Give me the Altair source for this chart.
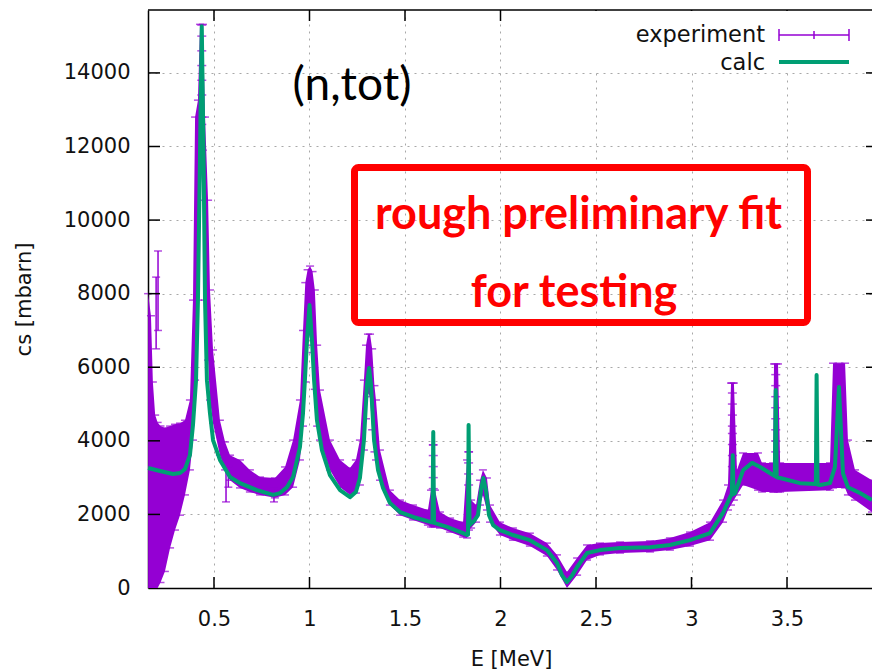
import altair as alt
import pandas as pd

# ---------------- data ----------------
calc_x = [0.155, 0.217, 0.285, 0.322, 0.348, 0.374, 0.390, 0.406, 0.416, 0.427, 0.436, 0.445, 0.453, 0.463,
          0.479, 0.495, 0.531, 0.584, 0.636, 0.725, 0.809, 0.846, 0.882, 0.914, 0.950, 0.966, 0.976, 0.987,
          1.000, 1.013, 1.024, 1.039, 1.065, 1.107, 1.160, 1.212, 1.243, 1.264, 1.285, 1.301, 1.312, 1.322,
          1.338, 1.359, 1.385, 1.421, 1.474, 1.542, 1.636, 1.644, 1.648, 1.652, 1.720, 1.804, 1.825, 1.830,
          1.833, 1.838, 1.861, 1.882, 1.898, 1.910, 1.924, 1.940, 1.961, 1.997, 2.065, 2.154, 2.243, 2.296,
          2.322, 2.348, 2.374, 2.401, 2.453, 2.521, 2.626, 2.783, 2.887, 2.992, 3.097, 3.165, 3.202, 3.211,
          3.216, 3.220, 3.228, 3.270, 3.317, 3.359, 3.427, 3.436, 3.441, 3.446, 3.464, 3.568, 3.651, 3.655,
          3.660, 3.673, 3.725, 3.751, 3.772, 3.793, 3.819, 3.882, 3.945]
calc_y = [3260, 3180, 3100, 3125, 3230, 3610, 4430, 5650, 7825, 11900, 15270, 11900, 7825, 5650,
          4750, 4020, 3480, 3015, 2850, 2660, 2530, 2580, 2740, 3015, 3830, 4750, 5650, 6740,
          7690, 6740, 5650, 4560, 3750, 3070, 2660, 2470, 2610, 2990, 4020, 5520, 5980, 5520,
          4020, 3200, 2720, 2310, 2065, 1930, 1790, 1790, 4240, 1770, 1660, 1490, 1440, 1450,
          4430, 1710, 1820, 1980, 2660, 2990, 2660, 1980, 1710, 1575, 1440, 1300, 1030, 680,
          350, 160, 330, 570, 950, 1030, 1090, 1110, 1170, 1300, 1490, 2040, 2470, 2550,
          3610, 2550, 2580, 3200, 3400, 3290, 3070, 3040, 5380, 3010, 2990, 2850, 2830, 5790,
          2810, 2800, 2850, 3290, 5460, 3120, 2740, 2580, 2390]

exp_x = [0.155, 0.170, 0.180, 0.192, 0.205, 0.220, 0.243, 0.270, 0.296, 0.322, 0.348, 0.374, 0.390, 0.401,
         0.416, 0.427, 0.442,
         0.453, 0.469, 0.479, 0.495, 0.531, 0.558, 0.584, 0.636, 0.688, 0.741, 0.819, 0.872, 0.914, 0.950,
         0.966, 0.978, 0.990, 1.003, 1.016, 1.028, 1.040, 1.055, 1.107, 1.160, 1.212, 1.243, 1.264, 1.285,
         1.296, 1.306, 1.317, 1.328, 1.340, 1.348,
         1.369, 1.421, 1.474, 1.542, 1.620, 1.636, 1.647, 1.657, 1.683, 1.736, 1.804, 1.825,
         1.835, 1.846, 1.872, 1.893, 1.908, 1.929, 1.945, 1.997, 2.065, 2.154, 2.243, 2.296, 2.348, 2.401,
         2.453, 2.521, 2.626, 2.783, 2.887, 2.992, 3.097, 3.165, 3.191, 3.207, 3.222, 3.238, 3.270, 3.348,
         3.369, 3.427, 3.432, 3.453, 3.464, 3.725, 3.741, 3.804, 3.819, 3.856, 3.945]
exp_lo = [0, 0, 0, 0, 0, 150, 450, 1090, 1575, 1980, 2530, 3210, 4020, 5650,
          7825, 10540, 11900,
          7825, 6195, 5110, 4480, 3610, 3210, 2930, 2720, 2610, 2530, 2450, 2530, 2740, 3480,
          4400, 5600, 6600, 6900, 6400, 5400, 4400, 4020, 3210, 2740, 2530, 2580, 2800, 3750,
          4600, 5300, 5200, 4300, 3700, 3480,
          2930, 2255, 1980, 1850, 1710, 1660, 1660, 1660, 1630, 1520, 1385, 1360,
          1575, 1630, 1790, 2255, 2530, 2120, 1790, 1440, 1300, 1140, 870, 490, 0, 350,
          760, 900, 950, 980, 1030, 1140, 1300, 1790, 2120, 2255, 2390, 2530, 2800, 2660,
          2610, 2610, 2610, 2610, 2610, 2660, 2720, 2720, 2530, 2390, 2065]
exp_hi = [8000, 7400, 5600, 4700, 4500, 4400, 4350, 4400, 4450, 4480, 4560, 5110, 7825, 12800,
          13260, 15320, 15320,
          12800, 10540, 8100, 6470, 4560, 3970, 3610, 3480, 3210, 3015, 2990, 3290, 4020, 5110,
          7000, 8300, 8650, 8750, 8600, 8100, 6600, 5380, 4020, 3480, 3260, 3480, 4020, 5650,
          6600, 6900, 6900, 6500, 5500, 5110,
          3750, 2660, 2390, 2255, 2120, 2660, 3890, 2660, 2065, 1900, 1790, 3480,
          3700, 2390, 2255, 2930, 3210, 2990, 2255, 1790, 1630, 1490, 1220, 900, 435, 815,
          1170, 1220, 1250, 1280, 1360, 1520, 1790, 2390, 2800, 5570, 5570, 3210, 3670, 3670,
          3400, 3400, 6090, 6090, 3400, 3400, 6110, 6110, 4020, 3210, 2930]

# a few isolated error bars that stick out of the dense band
bar_x = [0.197, 0.207, 0.563, 0.575, 0.814]
bar_lo = [6500, 7000, 2340, 2740, 2340]
bar_hi = [8450, 9160, 3300, 3300, 2700]

# stacked error-bar caps inside the narrow resonance columns
cap_x = [3.214] * 9 + [3.441] * 9 + [3.772] * 9 + [1.648] * 5 + [1.833] * 4 + [0.436] * 8
cap_y = [5570, 5300, 5000, 4700, 4400, 4200, 3900, 3600, 3300,
         6090, 5800, 5500, 5200, 4900, 4600, 4300, 4000, 3700,
         6110, 5900, 5600, 5300, 5000, 4700, 4400, 4000, 3700,
         3890, 3600, 3300, 3000, 2700,
         3700, 3400, 3100, 2800,
         15300, 15000, 14600, 14200, 13800, 13400, 12800, 12600]

x_ticks = [0.5, 1, 1.5, 2, 2.5, 3, 3.5]
y_ticks = [0, 2000, 4000, 6000, 8000, 10000, 12000, 14000]

# ---------------- styling ----------------
PURPLE = "#9400d3"
GREEN = "#009e73"
RED = "#ff0000"
FONT = "DejaVu Sans"
W, H = 724, 578

xs = alt.Scale(domain=[0.1545, 3.945], nice=False, zero=False)
ys = alt.Scale(domain=[0, 15710], nice=False, zero=False)

x_axis = alt.Axis(values=x_ticks, format="~g", title="E [MeV]", grid=True, ticks=False,
                  labelPadding=20, titleX=363, titleY=77, titleBaseline="alphabetic")
y_axis = alt.Axis(values=y_ticks, format="d", title="cs [mbarn]", grid=True, ticks=False,
                  labelPadding=18, titleX=-118, titleY=289, titleAngle=270,
                  titleAlign="center", titleBaseline="alphabetic")


def X(field="x"):
    return alt.X(f"{field}:Q", scale=xs, axis=x_axis)


def Y(field="y"):
    return alt.Y(f"{field}:Q", scale=ys, axis=y_axis)


band_df = pd.DataFrame({"x": exp_x, "y": exp_lo, "y2": exp_hi})
calc_df = pd.DataFrame({"x": calc_x, "y": calc_y})
bars_df = pd.DataFrame({"x": bar_x, "y": bar_lo, "y2": bar_hi})
bar_caps_df = pd.DataFrame({"x": bar_x + bar_x, "y": bar_lo + bar_hi})
edge_caps = [(x, v) for x, v in zip(exp_x, exp_lo) if v > 0] + list(zip(exp_x, exp_hi))
edge_caps_df = pd.DataFrame({"x": [c[0] for c in edge_caps], "y": [c[1] for c in edge_caps]})
caps_df = pd.DataFrame({"x": cap_x, "y": cap_y})
xt_df = pd.DataFrame({"x": x_ticks})
yt_df = pd.DataFrame({"y": y_ticks[1:]})
one = pd.DataFrame({"a": [0]})

band = alt.Chart(band_df).mark_area(color=PURPLE, opacity=1).encode(x=X(), y=Y(), y2="y2:Q")
edge_caps_l = alt.Chart(edge_caps_df).mark_tick(color=PURPLE, orient="horizontal", size=8,
                                                thickness=1.5).encode(x=X(), y=Y())
bars = alt.Chart(bars_df).mark_rule(color=PURPLE, strokeWidth=1.5).encode(x=X(), y=Y(), y2="y2:Q")
bar_caps = alt.Chart(bar_caps_df).mark_tick(color=PURPLE, orient="horizontal", size=8,
                                            thickness=1.5).encode(x=X(), y=Y())
caps = alt.Chart(caps_df).mark_tick(color=PURPLE, orient="horizontal", size=9,
                                    thickness=1.5).encode(x=X(), y=Y())
calc = alt.Chart(calc_df).mark_line(color=GREEN, strokeWidth=4, strokeJoin="round").encode(
    x=X(), y=Y())

# inward ticks (gnuplot style) and the top border
tick_b = alt.Chart(xt_df).mark_rule(color="black", strokeWidth=1.5).encode(
    x=X(), y=alt.value(H - 11), y2=alt.value(H))
tick_t = alt.Chart(xt_df).mark_rule(color="black", strokeWidth=1.5).encode(
    x=X(), y=alt.value(0), y2=alt.value(11))
tick_l = alt.Chart(yt_df).mark_rule(color="black", strokeWidth=1.5).encode(
    y=Y(), x=alt.value(0), x2=alt.value(12))
tick_r = alt.Chart(yt_df).mark_rule(color="black", strokeWidth=1.5).encode(
    y=Y(), x=alt.value(W - 6), x2=alt.value(W))
top_border = alt.Chart(one).mark_rule(color="black", strokeWidth=1.5).encode(
    x=alt.value(0), x2=alt.value(W), y=alt.value(0))

# key
key_bg = alt.Chart(one).mark_rect(color="white").encode(
    x=alt.value(445), x2=alt.value(W - 7), y=alt.value(1), y2=alt.value(60))
key_txt1 = alt.Chart(one).mark_text(text="experiment", font=FONT, fontSize=22.5, align="right",
                                    baseline="middle", color="#111").encode(
    x=alt.value(617), y=alt.value(25))
key_txt2 = alt.Chart(one).mark_text(text="calc", font=FONT, fontSize=22.5, align="right",
                                    baseline="middle", color="#111").encode(
    x=alt.value(617), y=alt.value(53))
key_exp = alt.Chart(one).mark_rule(color=PURPLE, strokeWidth=1.5).encode(
    x=alt.value(631), x2=alt.value(701), y=alt.value(25))
key_exp_c1 = alt.Chart(one).mark_rule(color=PURPLE, strokeWidth=1.5).encode(
    x=alt.value(631), y=alt.value(19), y2=alt.value(31))
key_exp_c2 = alt.Chart(one).mark_rule(color=PURPLE, strokeWidth=1.5).encode(
    x=alt.value(701), y=alt.value(19), y2=alt.value(31))
key_exp_c3 = alt.Chart(one).mark_rule(color=PURPLE, strokeWidth=1.5).encode(
    x=alt.value(666), y=alt.value(21), y2=alt.value(29))
key_calc = alt.Chart(one).mark_rule(color=GREEN, strokeWidth=4).encode(
    x=alt.value(631), x2=alt.value(701), y=alt.value(52))

# annotations
ntot = alt.Chart(one).mark_text(text="(n,tot)", font="Lato", fontSize=46, align="center",
                                baseline="alphabetic", color="black").encode(
    x=alt.value(204), y=alt.value(90))
red_box = alt.Chart(one).mark_rect(fillOpacity=0, stroke=RED, strokeWidth=7, cornerRadius=4).encode(
    x=alt.value(206.5), x2=alt.value(659.5), y=alt.value(157.5), y2=alt.value(312.5))
red_t1 = alt.Chart(one).mark_text(text="rough preliminary fit", font="Lato", fontWeight="bold",
                                  fontSize=45, align="center", baseline="alphabetic",
                                  color=RED).encode(x=alt.value(430.5), y=alt.value(219))
red_t2 = alt.Chart(one).mark_text(text="for testing", font="Lato", fontWeight="bold",
                                  fontSize=45, align="center", baseline="alphabetic",
                                  color=RED).encode(x=alt.value(426), y=alt.value(297))

chart = alt.layer(
    band, edge_caps_l, bars, bar_caps, caps, calc,
    tick_b, tick_t, tick_l, tick_r, top_border,
    key_bg, key_txt1, key_txt2, key_exp, key_exp_c1, key_exp_c2, key_exp_c3, key_calc,
    ntot, red_box, red_t1, red_t2,
).properties(
    width=W, height=H,
    padding={"left": 148, "top": 10, "right": 0, "bottom": 82},
    autosize=alt.AutoSizeParams(type="none"),
).configure_view(stroke=None).configure_axis(
    labelFont=FONT, labelFontSize=21, labelColor="#111",
    titleFont=FONT, titleFontSize=21, titleFontWeight="normal", titleColor="#111",
    domainColor="black", domainWidth=1.5,
    gridColor="#a8a8a8", gridDash=[2, 5], gridWidth=1,
)

chart.save("out.html", embed_options={"renderer": "svg", "actions": False})
